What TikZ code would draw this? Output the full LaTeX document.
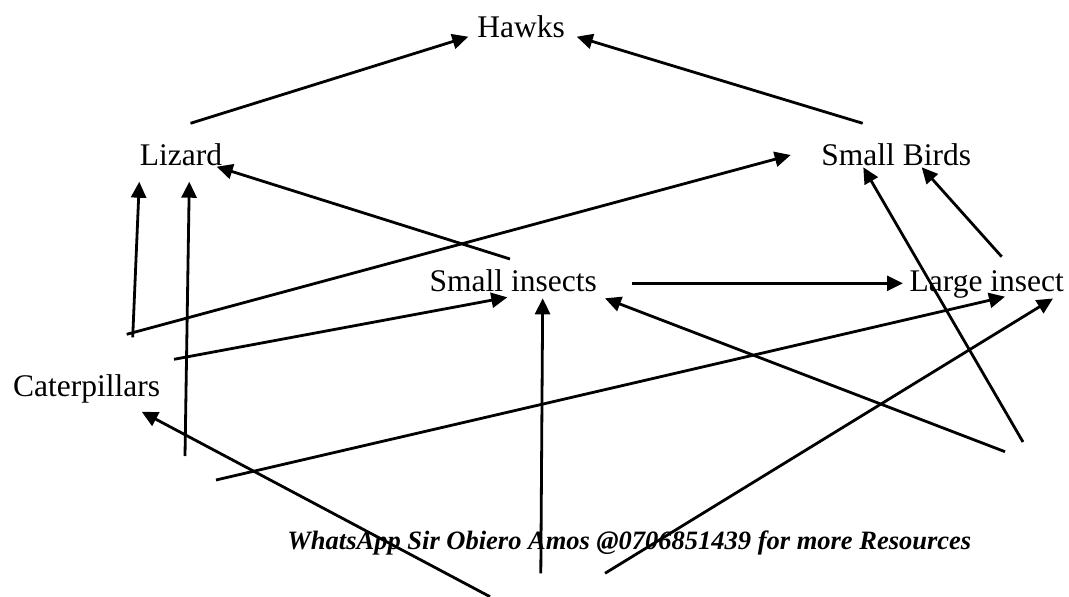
\documentclass[tikz,border=0pt]{standalone}
\usepackage{fontspec}
\setmainfont{Liberation Serif}
\usetikzlibrary{arrows.meta}
\begin{document}
\begin{tikzpicture}[x=1pt, y=-1pt, line width=2.8pt, >={Triangle[length=16pt,width=15pt]},
		lbl/.style={anchor=base west, inner sep=0pt, font=\fontsize{31.5}{36}\selectfont},
		note/.style={anchor=base west, inner sep=0pt, font=\fontsize{26.5}{30}\selectfont\bfseries\itshape}]
		\useasboundingbox (0,0) rectangle (1069,597);
		% organisms
		\node[lbl] (hawks) at (476,37.3) {Hawks};
		\node[lbl] (lizard) at (138.5,165) {Lizard};
		\node[lbl] (birds) at (820,165) {Small Birds};
		\node[lbl] (small) at (428.3,291.7) {Small insects};
		\node[lbl] (large) at (908.3,291.7) {Large insect};
		\node[lbl] (cater) at (11.7,396.7) {Caterpillars};
		\node[note] (wa) at (286,549.3) {WhatsApp Sir Obiero Amos @0706851439 for more Resources};
		% arrow tips
		\coordinate (hk-l) at (468.3,36.7); \coordinate (hk-r) at (576.7,36.7);
		\coordinate (lz-r) at (216.7,166.7); \coordinate (lz-a) at (139.3,181.7); \coordinate (lz-b) at (189.3,181.7);
		\coordinate (sb-l) at (790.7,155); \coordinate (sb-a) at (863.3,167.3); \coordinate (sb-b) at (921.7,167.3);
		\coordinate (si-l) at (507.3,297.3); \coordinate (si-b) at (542.7,298.3); \coordinate (si-r) at (605,298.3);
		\coordinate (li-l) at (903,283.3); \coordinate (li-a) at (1005,296.7); \coordinate (li-b) at (1053,298.5);
		\coordinate (cp) at (141.7,411.7);
		% arrow tails
		\coordinate (lz-t) at (190.5,123.3); \coordinate (sb-t) at (862.7,123.3);
		\coordinate (si-t) at (510,259); \coordinate (si-e) at (631.7,283.3);
		\coordinate (cp-a) at (132.7,337.3); \coordinate (cp-b) at (126.7,334.3);
		\coordinate (cp-c) at (174,359.3); \coordinate (cp-d) at (185,456); \coordinate (cp-e) at (216,480);
		\coordinate (gp-a) at (490,596.7); \coordinate (gp-b) at (540.8,573.3); \coordinate (gp-c) at (605,573.3);
		\coordinate (rt-a) at (1005,451.7); \coordinate (rt-b) at (1023,442); \coordinate (li-t) at (1001.7,256.7);
		% feeding links
		\foreach \a/\b in {lz-t/hk-l, sb-t/hk-r, si-t/lz-r, cp-a/lz-a, cp-d/lz-b, cp-b/sb-l, cp-c/si-l,
			cp-e/li-a, gp-a/cp, gp-b/si-b, gp-c/li-b, rt-a/si-r, rt-b/sb-a, li-t/sb-b, si-e/li-l}
			\draw[->] (\a) -- (\b);
\end{tikzpicture}
\end{document}
